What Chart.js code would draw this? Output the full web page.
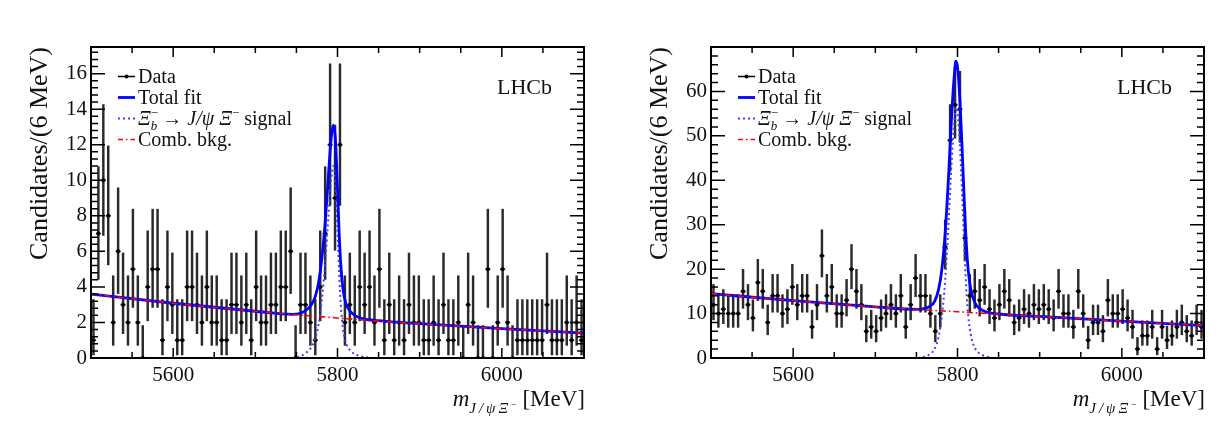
<!DOCTYPE html>
<html>
<head>
<meta charset="utf-8">
<script src="https://cdn.jsdelivr.net/npm/chart.js@4.4.1/dist/chart.umd.min.js"></script>
<style>
html, body { margin: 0; padding: 0; background: #fff; }
#wrap { position: relative; width: 1219px; height: 426px; }
canvas { position: absolute; top: 0; }
</style>
</head>
<body>
<div id="wrap">
  <canvas id="left" width="610" height="426" style="left:0"></canvas>
  <canvas id="right" width="599" height="426" style="left:620px"></canvas>
</div>
<script>
// ---------- binning and axes ----------
const massMin = 5500, massMax = 6100, binWidth = 6;
const xTickValues = [5600, 5800, 6000];
const leftYTicks = [0, 2, 4, 6, 8, 10, 12, 14, 16];
const rightYTicks = [0, 10, 20, 30, 40, 50, 60];

// ---------- data (candidates per 6 MeV bin) ----------
const leftCounts = [
  1, 7, 10, 8, 2, 6, 3, 2, 5, 2, 0, 4, 5, 5, 1, 4, 3, 1, 1, 4,
  4, 3, 2, 4, 2, 2, 1, 1, 3, 3, 2, 3, 1, 4, 2, 2, 3, 3, 4, 4,
  6, 0, 3, 3, 2, 1, 4, 7, 12, 9, 12, 2, 3, 2, 4, 3, 4, 2, 5, 1,
  3, 1, 2, 1, 3, 2, 2, 1, 1, 2, 1, 3, 1, 1, 2, 0, 3, 2, 0, 0,
  5, 0, 2, 5, 2, 0, 1, 1, 1, 1, 1, 1, 3, 1, 1, 1, 2, 1, 2, 1
];
const rightCounts = [
  12, 10, 11, 10, 10, 10, 15, 12, 9, 17, 15, 8, 14, 14, 10, 11, 16, 12, 14, 14,
  7, 12, 23, 14, 16, 10, 10, 13, 20, 15, 12, 6, 7, 6, 9, 10, 12, 10, 14, 7,
  12, 18, 14, 14, 10, 6, 10, 25, 49, 57, 56, 27, 14, 15, 13, 16, 11, 9, 12, 15,
  13, 8, 9, 11, 10, 12, 11, 12, 11, 9, 15, 10, 10, 7, 15, 10, 4, 8, 8, 6,
  13, 10, 10, 11, 9, 7, 2, 5, 5, 7, 2, 7, 4, 5, 7, 8, 6, 5, 8, 7
];

// ---------- fit curves ----------
const leftBkgMass = [5500, 5600, 5700, 5800, 5900, 6000, 6100];
const leftBkg = [3.6, 3.08, 2.63, 2.25, 1.92, 1.65, 1.4];
const leftSigMass = [5745, 5755, 5762, 5768, 5773, 5777, 5781, 5785, 5789, 5792, 5795, 5797.5, 5800, 5802, 5804, 5806.5, 5810, 5815, 5822, 5830, 5840];
const leftSig = [0, 0.1, 0.3, 0.6, 1.1, 1.9, 3.3, 5.3, 8.0, 9.9, 10.8, 10.0, 7.3, 4.8, 3.0, 1.7, 0.9, 0.45, 0.2, 0.08, 0];
const leftTotMass = [5500, 5600, 5700, 5745, 5755, 5762, 5768, 5773, 5777, 5781, 5785, 5789, 5792, 5795, 5797.5, 5800, 5802, 5804, 5806.5, 5810, 5815, 5822, 5830, 5850, 5900, 6000, 6100];
const leftTot = [3.6, 3.08, 2.63, 2.46, 2.52, 2.7, 2.98, 3.47, 4.25, 5.63, 7.6, 10.3, 12.2, 13.1, 12.3, 9.55, 7.05, 5.25, 3.95, 3.1, 2.65, 2.37, 2.22, 2.1, 1.93, 1.65, 1.4];

const rightBkgMass = [5500, 5600, 5700, 5800, 5900, 6000, 6100];
const rightBkg = [14.5, 12.9, 11.5, 10.4, 9.35, 8.3, 7.3];
const rightSigMass = [5752, 5760, 5766, 5772, 5777, 5781, 5785, 5789, 5793, 5796, 5798, 5800, 5803, 5806, 5809, 5812, 5816, 5821, 5828, 5836, 5844];
const rightSig = [0, 0.3, 0.8, 2.0, 4.8, 9.4, 17.6, 30, 44.6, 53, 56.4, 55.1, 47.6, 35.2, 21.7, 11.8, 5.4, 2.3, 0.9, 0.3, 0];
const rightTotMass = [5500, 5600, 5700, 5752, 5760, 5766, 5772, 5777, 5781, 5785, 5789, 5793, 5796, 5798, 5800, 5803, 5806, 5809, 5812, 5816, 5821, 5828, 5836, 5850, 5900, 6000, 6100];
const rightTot = [14.5, 12.9, 11.5, 10.95, 11.15, 11.6, 12.7, 15.45, 20, 28.15, 40.5, 55.05, 63.4, 66.8, 65.5, 57.95, 45.5, 32, 22.06, 15.6, 12.5, 11.0, 10.3, 9.9, 9.35, 8.3, 7.3];

// ---------- helpers ----------
const serif = '"Liberation Serif", "DejaVu Serif", serif';
const ink = '#111';

// 68% Poisson interval (Wilson-Hilferty)
function poissonLower(n) {
  if (n === 0) return 0;
  return n * Math.pow(1 - 1 / (9 * n) - 1 / (3 * Math.sqrt(n)), 3);
}
function poissonUpper(n) {
  const m = n + 1;
  return m * Math.pow(1 - 1 / (9 * m) + 1 / (3 * Math.sqrt(m)), 3);
}

function pairs(xs, ys) {
  return xs.map((x, i) => ({x: x, y: ys[i]}));
}

function drawPieces(ctx, x, y, pieces) {
  pieces.forEach(p => {
    ctx.font = p.font;
    ctx.letterSpacing = p.spacing || '0px';
    ctx.fillText(p.t, x, y + (p.dy || 0));
    const w = ctx.measureText(p.t).width;
    if (!p.stack) x += w;
  });
  ctx.letterSpacing = '0px';
  return x;
}

function measurePieces(ctx, pieces) {
  let w = 0;
  pieces.forEach(p => {
    ctx.font = p.font;
    ctx.letterSpacing = p.spacing || '0px';
    if (!p.stack) w += ctx.measureText(p.t).width;
  });
  ctx.letterSpacing = '0px';
  return w;
}

// ---------- ROOT style frame, ticks, legend, labels ----------
const rootStyle = {
  id: 'rootStyle',
  afterDraw(chart, args, opts) {
    const ctx = chart.ctx;
    const a = chart.chartArea;
    const xs = chart.scales.x, ys = chart.scales.y;
    ctx.save();

    // frame
    ctx.strokeStyle = '#000';
    ctx.lineWidth = 2;
    ctx.strokeRect(a.left, a.top, a.right - a.left, a.bottom - a.top);

    // x ticks (top and bottom, inside)
    ctx.lineWidth = 1.5;
    ctx.beginPath();
    for (let k = 0; massMin + k * 50 <= massMax; k++) {
      const m = massMin + k * 50;
      const px = xs.getPixelForValue(m);
      const len = xTickValues.includes(m) ? 10 : 6;
      ctx.moveTo(px, a.bottom); ctx.lineTo(px, a.bottom - len);
      ctx.moveTo(px, a.top); ctx.lineTo(px, a.top + len);
    }
    // y ticks (left and right, inside)
    for (let k = 0; k * opts.yMinor <= opts.yMax + 1e-9; k++) {
      const v = k * opts.yMinor;
      const py = ys.getPixelForValue(v);
      const r = v / opts.yMajor;
      const len = Math.abs(r - Math.round(r)) < 1e-6 ? 14 : 7;
      ctx.moveTo(a.left, py); ctx.lineTo(a.left + len, py);
      ctx.moveTo(a.right, py); ctx.lineTo(a.right - len, py);
    }
    ctx.stroke();

    // legend
    const lx0 = a.left + 27, lx1 = a.left + 44, tx = a.left + 47;
    const rows = [a.top + 36, a.top + 57, a.top + 78, a.top + 99];
    ctx.fillStyle = ink;
    ctx.textBaseline = 'alphabetic';
    ctx.textAlign = 'left';

    ctx.strokeStyle = '#000'; ctx.lineWidth = 1.5; ctx.setLineDash([]);
    ctx.beginPath(); ctx.moveTo(lx0, rows[0] - 6.5); ctx.lineTo(lx1, rows[0] - 6.5); ctx.stroke();
    ctx.beginPath(); ctx.arc((lx0 + lx1) / 2, rows[0] - 6.5, 2, 0, Math.PI * 2); ctx.fillStyle = '#000'; ctx.fill();

    ctx.strokeStyle = '#0000ff'; ctx.lineWidth = 2.8;
    ctx.beginPath(); ctx.moveTo(lx0, rows[1] - 6.5); ctx.lineTo(lx1, rows[1] - 6.5); ctx.stroke();

    ctx.strokeStyle = '#4040ff'; ctx.lineWidth = 2; ctx.setLineDash([2, 3]);
    ctx.beginPath(); ctx.moveTo(lx0, rows[2] - 6.5); ctx.lineTo(lx1, rows[2] - 6.5); ctx.stroke();

    ctx.strokeStyle = '#ff0000'; ctx.lineWidth = 1.6; ctx.setLineDash([5, 3, 1.5, 3]);
    ctx.beginPath(); ctx.moveTo(lx0, rows[3] - 6.5); ctx.lineTo(lx1, rows[3] - 6.5); ctx.stroke();
    ctx.setLineDash([]);

    ctx.fillStyle = ink;
    ctx.font = `20px ${serif}`;
    ctx.fillText('Data', tx, rows[0]);
    ctx.fillText('Total fit', tx, rows[1]);
    drawPieces(ctx, tx, rows[2], [
      {t: 'Ξ', font: `italic 20px ${serif}`},
      {t: '−', font: `13px ${serif}`, dy: -8, stack: true},
      {t: 'b', font: `italic 13px ${serif}`, dy: 5},
      {t: ' → ', font: `20px ${serif}`},
      {t: 'J/ψ ', font: `italic 20px ${serif}`},
      {t: 'Ξ', font: `italic 20px ${serif}`},
      {t: '−', font: `13px ${serif}`, dy: -8},
      {t: ' signal', font: `20px ${serif}`}
    ]);
    ctx.font = `20px ${serif}`;
    ctx.fillText('Comb. bkg.', tx, rows[3]);

    // LHCb label
    ctx.font = `22px ${serif}`;
    ctx.fillText('LHCb', a.left + 406, a.top + 47);

    // x axis title
    const title = [
      {t: 'm', font: `italic 23px ${serif}`},
      {t: 'J/ψΞ', font: `italic 15px ${serif}`, dy: 7, spacing: '3px'},
      {t: '−', font: `10px ${serif}`, dy: 2},
      {t: ' [MeV]', font: `23px ${serif}`}
    ];
    const w = measurePieces(ctx, title);
    drawPieces(ctx, a.right + 1 - w, 406, title);

    ctx.restore();
  }
};

function makePanel(canvasId, counts, bkg, sig, tot, yMax, yTicks, yMajor, yMinor, rightPad) {
  const centres = counts.map((n, i) => massMin + binWidth * (i + 0.5));
  const points = counts.map((n, i) => ({x: centres[i], y: n}));
  const errors = counts.map((n, i) => ({x: centres[i], y: [poissonLower(n), poissonUpper(n)]}));

  return new Chart(document.getElementById(canvasId), {
    type: 'scatter',
    data: {
      datasets: [
        {type: 'line', data: bkg, borderColor: '#ff0000', borderWidth: 1.6, borderDash: [6, 3, 1.5, 3],
         pointRadius: 0, cubicInterpolationMode: 'monotone', order: 0},
        {type: 'line', data: tot, borderColor: '#0000ff', borderWidth: 2.8,
         pointRadius: 0, cubicInterpolationMode: 'monotone', order: 1},
        {type: 'line', data: sig, borderColor: '#4040ff', borderWidth: 2, borderDash: [2, 3],
         pointRadius: 0, cubicInterpolationMode: 'monotone', order: 2},
        {type: 'scatter', data: points, pointStyle: 'circle', pointRadius: 2,
         pointBackgroundColor: '#000', pointBorderWidth: 0, order: 3},
        {type: 'scatter', data: points, pointStyle: 'line', pointRadius: 2.5,
         pointBorderColor: '#111', pointBorderWidth: 1.6, order: 4},
        {type: 'bar', data: errors, barThickness: 1.8, backgroundColor: '#2a2a2a',
         borderWidth: 0, grouped: false, order: 5}
      ]
    },
    options: {
      responsive: false,
      animation: false,
      devicePixelRatio: 1,
      layout: {padding: {top: 47, right: rightPad, bottom: 0, left: 0}},
      plugins: {
        legend: {display: false},
        tooltip: {enabled: false},
        rootStyle: {yMax: yMax, yMajor: yMajor, yMinor: yMinor}
      },
      scales: {
        x: {
          type: 'linear', min: massMin, max: massMax, offset: false,
          afterBuildTicks: s => { s.ticks = xTickValues.map(v => ({value: v})); },
          afterFit: s => { s.height = 68; },
          grid: {display: false, drawTicks: false},
          border: {display: false},
          ticks: {font: {family: serif, size: 21}, color: ink, padding: 5, maxRotation: 0, autoSkip: false,
                  callback: v => String(v)}
        },
        y: {
          type: 'linear', min: 0, max: yMax,
          afterBuildTicks: s => { s.ticks = yTicks.map(v => ({value: v})); },
          afterFit: s => { s.width = 91; },
          grid: {display: false, drawTicks: false},
          border: {display: false},
          ticks: {font: {family: serif, size: 21}, color: ink, padding: 4, autoSkip: false,
                  callback: v => String(v)},
          title: {display: true, text: 'Candidates/(6 MeV)', align: 'end', color: ink,
                  font: {family: serif, size: 26}, padding: {top: 25, bottom: 0}}
        }
      }
    },
    plugins: [rootStyle]
  });
}

makePanel('left', leftCounts, pairs(leftBkgMass, leftBkg), pairs(leftSigMass, leftSig),
          pairs(leftTotMass, leftTot), 17.5, leftYTicks, 2, 0.4, 26);
makePanel('right', rightCounts, pairs(rightBkgMass, rightBkg), pairs(rightSigMass, rightSig),
          pairs(rightTotMass, rightTot), 70, rightYTicks, 10, 2, 15);
</script>
</body>
</html>
